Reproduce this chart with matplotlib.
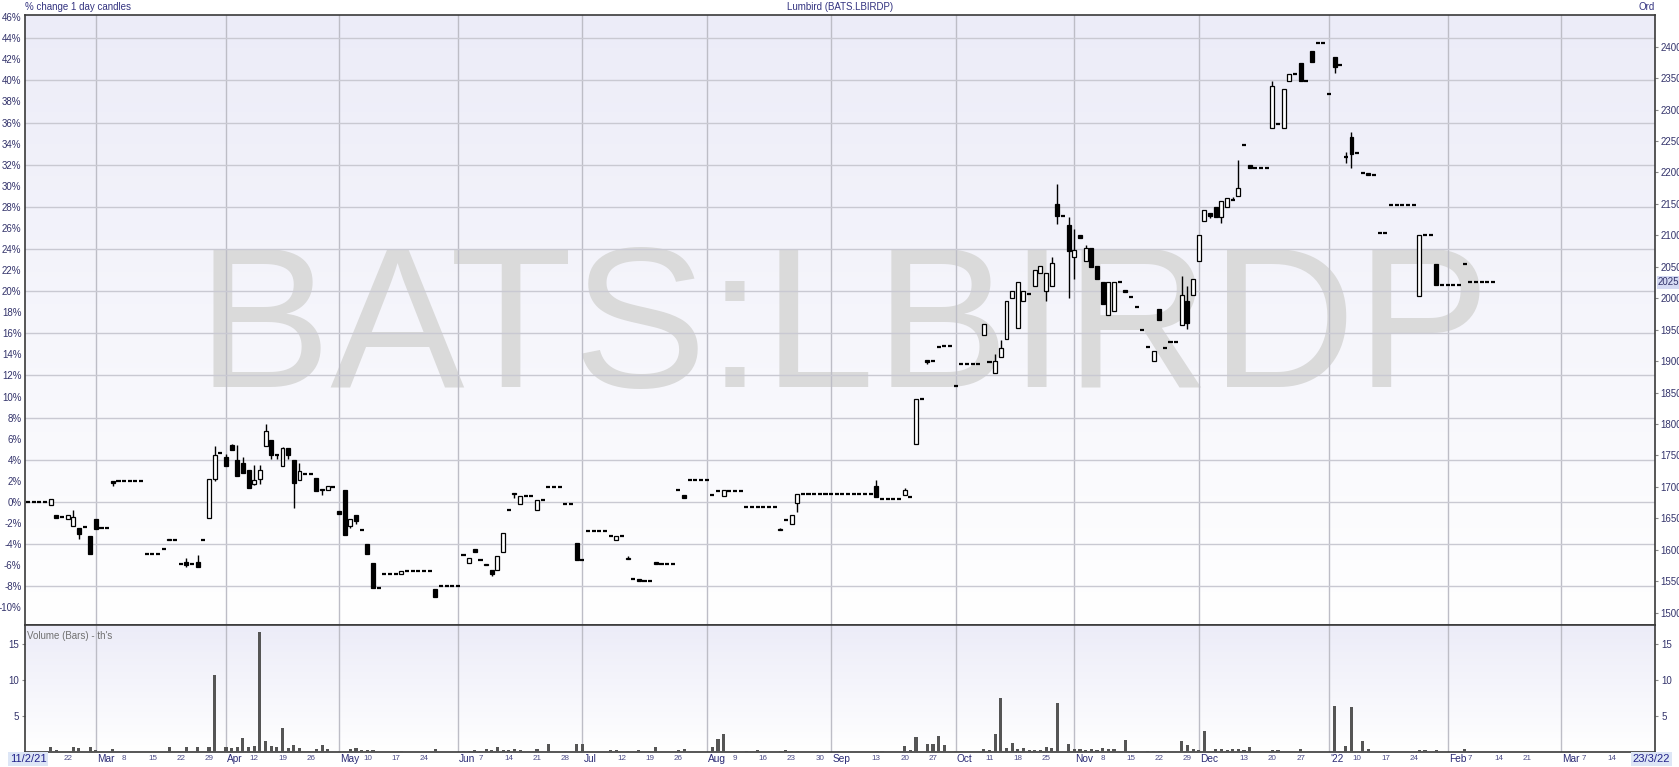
import numpy as np
import pandas as pd
import matplotlib
matplotlib.use("Agg")
import matplotlib.pyplot as plt
from matplotlib.colors import LinearSegmentedColormap
from matplotlib.transforms import blended_transform_factory

plt.rcParams['font.family'] = ['Liberation Sans', 'DejaVu Sans']

# trading calendar used by the chart (weekdays, Easter 2021 closed)
days = pd.bdate_range('2021-02-11', '2022-03-23')
days = days[~days.isin(pd.to_datetime(['2021-04-02', '2021-04-05']))]

base_price = 1676  # price at 0%

# daily candles, % change from base (one value per trading day from 11/2/21)
open_pct = [
    0, 0, 0, 0, -0.3, -1.27, -1.42, -1.65, -2.28, -2.47,
    -2.37, -3.26, -1.58, -2.5, -2.5, 1.96, 1.96, 1.96, 1.96, 1.96,
    1.96, -4.9, -4.9, -4.9, -4.5, -3.5, -3.64, -5.9, -5.7, -5.85,
    -5.7, -3.64, -1.49, 2.15, 4.68, 4.27, 5.38, 4.02, 3.73, 3.07,
    1.68, 2.2, 5.28, 5.92, 4.43, 3.39, 5.13, 4.02, 2.12, 2.69,
    2.69, 2.31, 1.27, 1.17, 1.42, -0.85, 1.1, -2.31, -1.27, -2.63,
    -3.96, -5.76, -8.13, -6.8, -6.8, -6.8, -6.8, -6.55, -6.55, -6.55,
    -6.55, -6.55, -8.29, -7.94, -7.94, -7.94, -7.94, -5.06, -5.76, -4.49,
    -5.47, -5.85, -6.42, -6.42, -4.78, -0.73, 0.89, -0.16, 0.54, 0.54,
    -0.73, 0.16, 1.42, 1.42, 1.42, -0.16, -0.16, -3.86, -5.54, -2.75,
    -2.75, -2.75, -2.75, -3.26, -3.58, -3.26, -5.4, -7.28, -7.3, -7.47,
    -7.47, -5.7, -5.85, -5.85, -5.85, 1.17, 0.7, 2.06, 2.06, 2.06,
    2.06, 0.63, 1.04, 0.57, 1.04, 1.04, 1.04, -0.47, -0.47, -0.47,
    -0.47, -0.47, -0.47, -2.6, -1.74, -2.06, -0.09, 0.8, 0.8, 0.8,
    0.8, 0.8, 0.8, 0.8, 0.8, 0.8, 0.8, 0.8, 0.8, 0.8,
    1.48, 0.32, 0.32, 0.32, 0.32, 0.63, 0.47, 5.46, 9.79, 13.48,
    13.4, 14.68, 14.84, 14.84, 11.05, 13.1, 13.1, 13.1, 13.1, 15.8,
    13.26, 12.22, 13.74, 15.47, 19.35, 16.5, 19.04, 19.7, 20.52, 21.7,
    20.0, 20.52, 28.3, 27.15, 26.3, 23.2, 25.3, 22.9, 24.1, 22.4,
    20.9, 17.7, 18.1, 20.9, 20.1, 19.4, 18.5, 16.3, 14.75, 13.36,
    18.3, 14.6, 15.15, 15.15, 16.83, 19.04, 19.67, 22.9, 26.7, 27.45,
    28.0, 27.07, 28.0, 28.65, 29.05, 33.9, 32.0, 31.7, 31.7, 31.7,
    35.46, 35.9, 35.5, 39.9, 40.6, 41.6, 39.9, 42.8, 43.5, 43.5,
    38.75, 42.2, 41.47, 32.77, 34.6, 33.1, 31.25, 31.25, 31.0, 25.5,
    25.5, 28.15, 28.15, 28.15, 28.15, 28.15, 19.5, 25.3, 25.3, 22.6,
    20.6, 20.6, 20.6, 20.6, 22.6, 20.86, 20.86, 20.86, 20.86, 20.86,
]
close_pct = [
    0, 0, 0, 0, 0.3, -1.49, -1.42, -1.27, -1.42, -3.0,
    -2.37, -4.9, -2.53, -2.5, -2.5, 1.8, 1.96, 1.96, 1.96, 1.96,
    1.96, -4.9, -4.9, -4.9, -4.5, -3.65, -3.64, -5.9, -6.0, -5.85,
    -6.17, -3.64, 2.2, 4.49, 4.68, 3.42, 4.9, 2.44, 2.78, 1.36,
    2.12, 3.0, 6.74, 4.49, 4.43, 5.13, 4.49, 1.8, 2.94, 2.69,
    2.69, 1.01, 1.1, 1.49, 1.42, -1.1, -3.16, -1.58, -1.8, -2.63,
    -4.9, -8.13, -8.13, -6.8, -6.8, -6.8, -6.55, -6.55, -6.55, -6.55,
    -6.55, -6.55, -9.02, -7.94, -7.94, -7.94, -7.94, -5.06, -5.32, -4.75,
    -5.47, -6.0, -6.8, -5.16, -2.94, -0.73, 0.73, 0.54, 0.54, 0.54,
    0.16, 0.16, 1.42, 1.42, 1.42, -0.16, -0.16, -5.54, -5.54, -2.75,
    -2.75, -2.75, -2.75, -3.26, -3.26, -3.26, -5.3, -7.28, -7.53, -7.47,
    -7.47, -5.85, -5.85, -5.85, -5.85, 1.17, 0.41, 2.06, 2.06, 2.06,
    2.06, 0.63, 1.04, 1.1, 1.04, 1.04, 1.04, -0.47, -0.47, -0.47,
    -0.47, -0.47, -0.47, -2.7, -1.74, -1.2, 0.79, 0.8, 0.8, 0.8,
    0.8, 0.8, 0.8, 0.8, 0.8, 0.8, 0.8, 0.8, 0.8, 0.8,
    0.47, 0.32, 0.32, 0.32, 0.32, 1.1, 0.47, 9.79, 9.79, 13.26,
    13.4, 14.68, 14.84, 14.84, 11.05, 13.1, 13.1, 13.1, 13.1, 16.9,
    13.26, 13.36, 14.62, 19.1, 20.0, 20.9, 20.0, 19.7, 22.04, 22.4,
    21.7, 22.67, 27.15, 27.15, 23.78, 23.93, 25.04, 24.1, 22.26, 21.15,
    18.8, 20.9, 20.9, 20.9, 19.9, 19.4, 18.5, 16.3, 14.75, 14.37,
    17.27, 14.6, 15.15, 15.15, 19.67, 17.0, 21.15, 25.3, 27.7, 27.1,
    27.05, 28.6, 28.87, 28.65, 29.8, 33.9, 31.66, 31.7, 31.7, 31.7,
    39.5, 35.9, 39.16, 40.6, 40.6, 39.9, 39.9, 41.7, 43.5, 43.5,
    38.75, 41.3, 41.47, 32.77, 33.05, 33.1, 31.25, 31.0, 31.0, 25.5,
    25.5, 28.15, 28.15, 28.15, 28.15, 28.15, 25.3, 25.3, 25.3, 20.6,
    20.6, 20.6, 20.6, 20.6, 22.6, 20.86, 20.86, 20.86, 20.86, 20.86,
]
# days whose high/low reach past the body
wick_day = [8, 9, 15, 28, 30, 33, 35, 36, 37, 38, 40, 41, 42, 43, 44, 45, 46, 47, 48,
            52, 57, 58, 82, 86, 106, 133, 136, 150, 155, 159, 171, 172, 180, 181,
            182, 184, 185, 187, 204, 205, 209, 211, 213, 214, 220, 231, 233, 234]
wick_high = [-0.79, -2.47, 1.96, -5.28, -5.06, 5.28, 4.6, 5.54, 5.38, 4.27, 3.48, 3.48,
             7.37, 5.92, 4.6, 5.2, 5.13, 4.02, 3.7, 1.27, -1.58, -1.27, -6.42, 0.89,
             -5.1, -2.44, 0.79, 2.05, 1.36, 13.48, 14.05, 15.38, 21.7, 23.2, 30.15,
             27.06, 25.9, 24.4, 21.47, 20.5, 27.45, 28.6, 28.9, 32.4, 39.9, 42.2,
             33.2, 35.1]
wick_low = [-2.28, -3.48, 1.5, -6.17, -6.17, 2.0, 3.42, 4.9, 2.44, 2.78, 1.58, 1.68,
            5.28, 4.1, 4.1, 3.39, 4.1, -0.54, 2.12, 0.7, -2.47, -2.06, -7.06, 0.38,
            -5.4, -2.7, -0.95, 0.47, 0.63, 13.1, 12.22, 13.74, 19.1, 20.52, 26.4,
            19.36, 21.15, 22.9, 16.83, 16.4, 26.9, 26.5, 28.65, 29.05, 35.46, 40.7,
            32.2, 31.7]

volume_th = [
    0, 0, 0, 0, 0.7, 0.28, 0, 0, 0.7, 0.55,
    0, 0.7, 0.23, 0, 0, 0.4, 0, 0, 0, 0,
    0, 0, 0, 0, 0, 0.7, 0, 0, 0.65, 0,
    0.65, 0, 0.65, 10.7, 0, 0.7, 0.55, 0.7, 1.94, 0.7,
    0.88, 16.67, 1.53, 0.83, 0.7, 3.33, 0.55, 0.93, 0.55, 0,
    0, 0.37, 0.93, 0.37, 0, 0.18, 0.2, 0.4, 0.5, 0.32,
    0.32, 0.23, 0, 0, 0, 0, 0.15, 0, 0, 0,
    0, 0, 0.4, 0, 0, 0, 0, 0.2, 0.2, 0.28,
    0.2, 0.4, 0.28, 0.7, 0.3, 0.28, 0.4, 0.3, 0, 0,
    0.4, 0, 1.1, 0, 0, 0.2, 0, 1.1, 1.1, 0,
    0, 0, 0, 0.28, 0.28, 0, 0.15, 0, 0.28, 0,
    0, 0.74, 0, 0, 0, 0.28, 0.4, 0, 0, 0,
    0, 0.7, 1.8, 2.5, 0, 0, 0, 0.2, 0, 0.28,
    0, 0, 0, 0.2, 0.28, 0.2, 0.15, 0, 0, 0,
    0, 0, 0, 0, 0, 0, 0, 0, 0, 0,
    0.2, 0.2, 0, 0, 0, 0.83, 0.28, 2.08, 0, 1.1,
    1.1, 2.2, 0.97, 0, 0.15, 0.15, 0, 0, 0, 0.4,
    0.28, 2.5, 7.55, 0.55, 1.3, 0.4, 0.55, 0.28, 0.28, 0.28,
    0.7, 0.6, 6.85, 0, 1.1, 0.4, 0.37, 0.28, 0.4, 0.28,
    0.55, 0.4, 0.4, 0, 1.67, 0, 0.15, 0, 0.15, 0.2,
    0.2, 0.2, 0, 0, 1.53, 0.97, 0.4, 0.28, 2.96, 0,
    0.4, 0.4, 0.28, 0.4, 0.4, 0.28, 0.7, 0, 0, 0,
    0.28, 0.28, 0, 0, 0, 0.4, 0, 0, 0, 0,
    0, 6.4, 0, 0.83, 6.25, 0, 1.53, 0.4, 0, 0,
    0, 0, 0, 0, 0, 0, 0.23, 0.23, 0, 0.23,
    0, 0, 0, 0, 0.4, 0, 0, 0, 0, 0,
]

pct_ticks = list(range(-10, 47, 2))
price_ticks = list(range(1500, 2401, 50))
last_price = 2025
vol_ticks = [5, 10, 15]

xtick_dates = ['2021-02-11', '2021-02-22', '2021-03-01', '2021-03-08', '2021-03-15',
               '2021-03-22', '2021-03-29', '2021-04-01', '2021-04-12', '2021-04-19',
               '2021-04-26', '2021-05-03', '2021-05-10', '2021-05-17', '2021-05-24',
               '2021-06-01', '2021-06-07', '2021-06-14', '2021-06-21', '2021-06-28',
               '2021-07-01', '2021-07-12', '2021-07-19', '2021-07-26', '2021-08-02',
               '2021-08-09', '2021-08-16', '2021-08-23', '2021-08-30', '2021-09-01',
               '2021-09-13', '2021-09-20', '2021-09-27', '2021-10-01', '2021-10-11',
               '2021-10-18', '2021-10-25', '2021-11-01', '2021-11-08', '2021-11-15',
               '2021-11-22', '2021-11-29', '2021-12-01', '2021-12-13', '2021-12-20',
               '2021-12-27', '2022-01-03', '2022-01-10', '2022-01-17', '2022-01-24',
               '2022-02-01', '2022-02-07', '2022-02-14', '2022-02-21', '2022-03-01',
               '2022-03-07', '2022-03-14', '2022-03-23']
xtick_labels = ['11/2/21', '22', 'Mar', '8', '15', '22', '29', 'Apr', '12', '19',
                '26', 'May', '10', '17', '24', 'Jun', '7', '14', '21', '28',
                'Jul', '12', '19', '26', 'Aug', '9', '16', '23', '30', 'Sep',
                '13', '20', '27', 'Oct', '11', '18', '25', 'Nov', '8', '15',
                '22', '29', 'Dec', '13', '20', '27', "'22", '10', '17', '24',
                'Feb', '7', '14', '21', 'Mar', '7', '14', '23/3/22']

navy = '#33336b'
W, H = 1679, 767
fig = plt.figure(figsize=(W / 100, H / 100), dpi=100)
ax = fig.add_axes([25 / W, 1 - 625 / H, 1630 / W, 610 / H])
axv = fig.add_axes([25 / W, 1 - 752 / H, 1630 / W, 127 / H])

grad_cmap = LinearSegmentedColormap.from_list('bg', ['#ffffff', '#ececf8'])
grad = np.linspace(0, 1, 256).reshape(-1, 1)
for a in (ax, axv):
    a.imshow(grad, extent=[0, 1, 0, 1], transform=a.transAxes, aspect='auto',
             cmap=grad_cmap, origin='lower', zorder=0)
    for s in a.spines.values():
        s.set_color('#3a3a3a')
        s.set_linewidth(1.2)

x = np.arange(len(open_pct))
o = np.array(open_pct, dtype=float)
c = np.array(close_pct, dtype=float)
hi = np.maximum(o, c)
lo = np.minimum(o, c)
for d, h, l in zip(wick_day, wick_high, wick_low):
    hi[d] = max(hi[d], h)
    lo[d] = min(lo[d], l)

xlim = (-0.53, 287.66)

# watermark
ax.text(0.502, 0.39, 'BATS:LBIRDP', transform=ax.transAxes, ha='center', va='baseline',
        fontsize=145, color='#dadada', zorder=0.5)

# grid
month_starts = [days[days.to_period('M') == p][0] for p in days.to_period('M').unique()[1:]]
month_idx = [days.get_loc(m) for m in month_starts]
for a in (ax, axv):
    for m in month_idx:
        a.axvline(m, color='#bdbdc6', lw=1, zorder=1)
for p in range(-8, 46, 4):
    ax.axhline(p, color='#c9c9d2', lw=1, zorder=1)

# candles
ax.vlines(x, lo, hi, color='black', lw=1, zorder=3)
up = c > o
down = c < o
flat = c == o
ax.bar(x[up], (c - o)[up], bottom=o[up], width=0.7, color='white',
       edgecolor='black', lw=0.9, zorder=4)
ax.bar(x[down], (o - c)[down], bottom=c[down], width=0.7, color='black',
       edgecolor='black', lw=0.9, zorder=4)
ax.hlines(o[flat], x[flat] - 0.36, x[flat] + 0.36, color='black', lw=1.6, zorder=4)

ax.set_xlim(*xlim)
ax.set_ylim(-11.67, 46.2)
ax.set_xticks([])
ax.set_yticks(pct_ticks)
ax.set_yticklabels([f'{p}%' for p in pct_ticks])
ax.tick_params(axis='y', length=0, pad=2.5, labelsize=7, labelcolor=navy)

sec = ax.secondary_yaxis('right', functions=(lambda p: base_price * (1 + p / 100),
                                             lambda v: (v / base_price - 1) * 100))
sec.set_yticks(price_ticks)
sec.tick_params(length=2.5, width=0.8, color='#888888', pad=1.5, labelsize=7, labelcolor=navy)
sec.spines['right'].set_visible(False)
ax.text(1.0 + 3 / 1630, (last_price / base_price - 1) * 100, str(last_price),
        transform=blended_transform_factory(ax.transAxes, ax.transData),
        ha='left', va='center', fontsize=7, color=navy,
        bbox=dict(boxstyle='square,pad=0.15', fc='#d5daf3', ec='none'))

# volume
axv.bar(x, volume_th, width=0.55, color='#555555', zorder=3)
axv.set_xlim(*xlim)
axv.set_ylim(0, 17.6)
axv.set_xticks([])
axv.set_yticks(vol_ticks)
axv.tick_params(axis='y', length=0, pad=5, labelsize=7, labelcolor=navy)
axv.tick_params(axis='y', which='both', right=True, labelright=True)
axv.tick_params(axis='y', length=2.5, color='#888888', pad=2)
axv.text(2 / 1630, 0.955, "Volume (Bars) - th's", transform=axv.transAxes,
         ha='left', va='top', fontsize=7, color='#707070')

# date labels
tr = blended_transform_factory(axv.transData, fig.transFigure)
for d, lab in zip(xtick_dates, xtick_labels):
    i = days.get_loc(pd.Timestamp(d))
    if '/' in lab:
        axv.text(i, 1 - 759 / H, lab, transform=tr, ha='center', va='center',
                 fontsize=8, color='#22228a',
                 bbox=dict(boxstyle='square,pad=0.15', fc='#dde6f6', ec='none'))
    elif lab.isdigit():
        axv.text(i, 1 - 759 / H, lab, transform=tr, ha='center', va='center',
                 fontsize=5.8, color='#4b4b86')
    else:
        axv.text(i + 0.2, 1 - 759 / H, lab, transform=tr, ha='left', va='center',
                 fontsize=7.3, color='#2b2b75')

# header
fig.text(25 / W, 1 - 7 / H, '% change 1 day candles', ha='left', va='center',
         fontsize=7, color='#333380')
fig.text(840 / W, 1 - 7 / H, 'Lumbird (BATS.LBIRDP)', ha='center', va='center',
         fontsize=7, color='#333380')
fig.text(1655 / W, 1 - 7 / H, 'Ord', ha='right', va='center', fontsize=7, color='#333380')

fig.savefig('out.png', dpi=100)
